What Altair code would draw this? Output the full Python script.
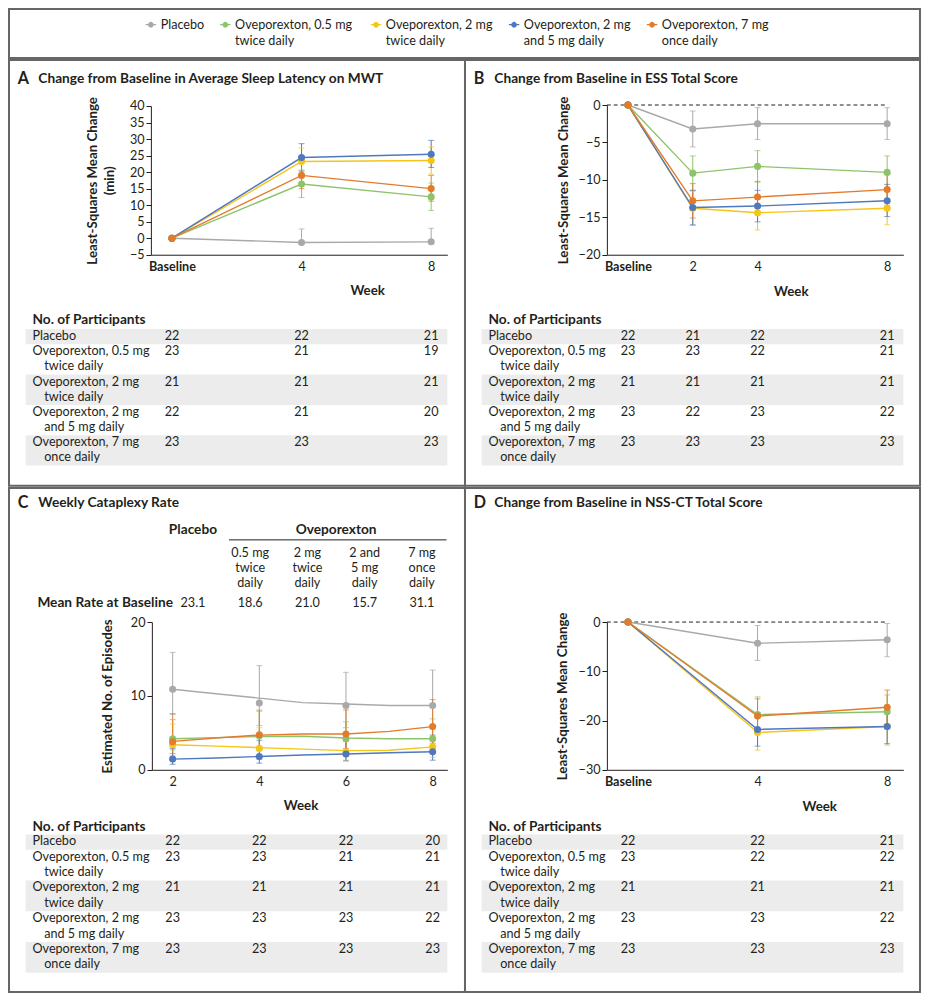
import altair as alt
import pandas as pd

S = 0.9785


def P(v):
    return round(v * S, 2)


FONT = "Lato"
INK = "#231f20"
BORDER = "#666666"
BAND = "#ececec"
FS = 12.9
FT = 13.6

SERIES = ["Placebo", "Oveporexton, 0.5 mg twice daily", "Oveporexton, 2 mg twice daily",
          "Oveporexton, 2 mg and 5 mg daily", "Oveporexton, 7 mg once daily"]
COLORS = ["#a9a9a9", "#8dc46b", "#f5c518", "#4f78bf", "#e37b2b"]
LEGEND_LABELS = ["Placebo", "Oveporexton, 0.5 mg\ntwice daily", "Oveporexton, 2 mg\ntwice daily",
                 "Oveporexton, 2 mg\nand 5 mg daily", "Oveporexton, 7 mg\nonce daily"]
ROW_LINE1 = ["Placebo", "Oveporexton, 0.5 mg", "Oveporexton, 2 mg", "Oveporexton, 2 mg",
             "Oveporexton, 7 mg"]
ROW_LINE2 = ["", "twice daily", "twice daily", "and 5 mg daily", "once daily"]

# ---------------- Panel A: MWT sleep latency ----------------
A_WEEKS = [0, 4, 8]
A_MEAN = [[0, -1.3, -1.1], [0, 16.4, 12.5], [0, 23.2, 23.5], [0, 24.4, 25.4], [0, 19.0, 15.0]]
A_LO = [[None, None, None], [None, 12.3, 8.4], [None, 19.1, 19.4], [None, 20.3, 21.4], [None, 15.0, 11.2]]
A_HI = [[None, 2.8, 3.0], [None, 20.6, 16.7], [None, 27.3, 27.6], [None, 28.6, 29.6], [None, 23.0, 19.0]]
A_N = [[22, 22, 21], [23, 21, 19], [21, 21, 21], [22, 21, 20], [23, 23, 23]]

# ---------------- Panel B: ESS ----------------
B_WEEKS = [0, 2, 4, 8]
B_MEAN = [[0, -3.2, -2.5, -2.5], [0, -9.1, -8.2, -9.0], [0, -13.8, -14.4, -13.8],
          [0, -13.7, -13.5, -12.8], [0, -12.8, -12.3, -11.3]]
B_LO = [[None, -5.6, -4.6, -4.6], [None, -11.4, -10.3, -11.1], [None, -16.1, -16.7, -16.0],
        [None, -16.0, -15.6, -14.9], [None, -15.1, -14.5, -13.4]]
B_HI = [[None, -0.8, -0.35, -0.35], [None, -6.8, -6.1, -6.8], [None, -11.5, -12.1, -11.5],
        [None, -11.4, -11.4, -10.6], [None, -10.5, -10.2, -9.2]]
B_N = [[22, 21, 22, 21], [23, 23, 22, 21], [21, 21, 21, 21], [23, 22, 23, 22], [23, 23, 23, 23]]

# ---------------- Panel C: weekly cataplexy rate ----------------
C_WEEKS = [2, 4, 6, 8]
C_MEAN = [[10.9, 9.05, 8.7, 8.7], [4.2, 4.6, 4.2, 4.2], [3.4, 2.9, 2.45, 3.1],
          [1.45, 1.8, 2.15, 2.45], [3.8, 4.75, 4.85, 5.85]]
C_LO = [[7.5, 6.0, 5.7, 5.6], [2.7, 2.6, 2.6, 2.5], [1.9, 1.4, 1.3, 1.7],
        [0.75, 0.9, 1.2, 1.3], [2.2, 2.8, 2.9, 3.6]]
C_HI = [[15.9, 14.1, 13.2, 13.5], [6.8, 8.1, 6.5, 6.9], [6.2, 5.7, 4.6, 5.8],
        [2.9, 4.0, 3.9, 4.7], [7.6, 7.95, 8.1, 9.5]]
C_LINE_WEEKS = [2, 3, 4, 5, 6, 7, 8]
C_LINE = [[10.9, 10.3, 9.7, 9.1, 8.9, 8.7, 8.7],
          [4.2, 4.35, 4.5, 4.55, 4.3, 4.2, 4.2],
          [3.4, 3.2, 3.0, 2.8, 2.6, 2.65, 3.1],
          [1.45, 1.6, 1.8, 2.0, 2.15, 2.3, 2.45],
          [3.85, 4.3, 4.7, 4.85, 4.85, 5.2, 5.85]]
C_N = [[22, 22, 22, 20], [23, 23, 21, 21], [21, 21, 21, 21], [23, 23, 23, 22], [23, 23, 23, 23]]
C_GROUPS = ["Placebo", "0.5 mg\ntwice\ndaily", "2 mg\ntwice\ndaily", "2 and\n5 mg\ndaily", "7 mg\nonce\ndaily"]
C_BASE_RATE = [23.1, 18.6, 21.0, 15.7, 31.1]

# ---------------- Panel D: NSS-CT ----------------
D_WEEKS = [0, 4, 8]
D_MEAN = [[0, -4.3, -3.6], [0, -18.8, -18.2], [0, -22.4, -21.2], [0, -21.8, -21.2], [0, -19.1, -17.3]]
D_LO = [[None, -7.8, -7.05], [None, -22.3, -21.6], [None, -26.0, -25.0], [None, -25.2, -24.7], [None, -22.6, -20.8]]
D_HI = [[None, -0.7, -0.3], [None, -15.2, -14.8], [None, -18.8, -17.4], [None, -18.4, -17.7], [None, -15.6, -13.8]]
D_N = [[22, 22, 21], [23, 22, 22], [21, 21, 21], [23, 23, 22], [23, 23, 23]]

COLOR = alt.Color("series:N", scale=alt.Scale(domain=SERIES, range=COLORS), legend=None)


def long_df(weeks, mean, lo=None, hi=None):
    rows = []
    for si, name in enumerate(SERIES):
        for wi, w in enumerate(weeks):
            rows.append({"series": name, "k": si, "week": w, "mean": mean[si][wi],
                         "lo": None if lo is None else lo[si][wi],
                         "hi": None if hi is None else hi[si][wi]})
    return pd.DataFrame(rows)


def err_frames(df):
    seg_rows, cap_rows = [], []
    for _, r in df.iterrows():
        lo, hi = r["lo"], r["hi"]
        has_lo = lo is not None and not pd.isna(lo)
        has_hi = hi is not None and not pd.isna(hi)
        if not (has_lo or has_hi):
            continue
        seg_rows.append({"series": r["series"], "k": r["k"], "week": r["week"],
                         "y0": float(lo) if has_lo else float(r["mean"]),
                         "y1": float(hi) if has_hi else float(r["mean"])})
        if has_lo:
            cap_rows.append({"series": r["series"], "k": r["k"], "week": r["week"], "cap": float(lo)})
        if has_hi:
            cap_rows.append({"series": r["series"], "k": r["k"], "week": r["week"], "cap": float(hi)})
    return pd.DataFrame(seg_rows), pd.DataFrame(cap_rows)


def plot_group(pts, line_df, xdom, xrng, ydom, yrng, xticks, yticks, ytitle, ytitle_x,
               week_xy, H, baseline=True, zero=False):
    xs = alt.Scale(domain=xdom, range=[P(xrng[0]), P(xrng[1])], nice=False, zero=False)
    ys = alt.Scale(domain=ydom, range=[P(yrng[0]), P(yrng[1])], nice=False, zero=False)
    xkw = dict(values=xticks, ticks=False, grid=False, domainColor=INK, domainWidth=1,
               labelColor=INK, labelFontSize=P(FS), labelPadding=P(6), labelFont=FONT,
               labelFlush=False, labelOverlap=False,
               offset=P(yrng[0]) - P(H), title="Week", titleFont=FONT, titleFontSize=P(FT),
               titleFontWeight="bold", titleColor=INK, titleX=P(week_xy[0]),
               titleY=P(week_xy[1]) - P(yrng[0]), titleAlign="center", titleBaseline="middle")
    if baseline:
        xkw["labelExpr"] = "datum.value == 0 ? 'Baseline' : datum.label"
        xkw["labelFontWeight"] = {"condition": {"test": "datum.value == 0", "value": "bold"},
                                  "value": "normal"}
    xaxis = alt.Axis(**xkw)
    yaxis = alt.Axis(values=yticks, grid=False, domainColor=INK, domainWidth=1, tickColor=INK,
                     tickSize=P(5), tickWidth=1, labelColor=INK, labelFontSize=P(FS),
                     labelFont=FONT, labelPadding=P(2), labelOverlap=False, labelFlush=False,
                     offset=-P(xrng[0]), title=ytitle, titleFont=FONT, titleFontSize=P(FT),
                     titleFontWeight="bold", titleColor=INK,
                     titleX=P(ytitle_x) - P(xrng[0]), titleY=(P(yrng[0]) + P(yrng[1])) / 2,
                     titleAngle=270, titleAlign="center", titleBaseline="top",
                     titleLineHeight=P(18))

    def X(f):
        return alt.X(f, type="quantitative", scale=xs, axis=xaxis)

    def Y(f):
        return alt.Y(f, type="quantitative", scale=ys, axis=yaxis)

    seg, caps = err_frames(pts)
    layers = []
    if zero:
        zdf = pd.DataFrame({"x0": [xdom[0]], "x1": [8], "y": [0]})
        layers.append(alt.Chart(zdf).mark_rule(color=INK, strokeDash=[P(4), P(3)], strokeWidth=1)
                      .encode(x=X("x0"), x2="x1:Q", y=Y("y")))
    layers.append(alt.Chart(seg).mark_rule(strokeWidth=1).encode(
        x=X("week"), y=Y("y0"), y2="y1:Q", color=COLOR))
    layers.append(alt.Chart(caps).mark_tick(orient="horizontal", size=P(6), thickness=1).encode(
        x=X("week"), y=Y("cap"), color=COLOR))
    layers.append(alt.Chart(line_df).mark_line(strokeWidth=1.4).encode(
        x=X("week"), y=Y("mean"), color=COLOR))
    layers.append(alt.Chart(pts).mark_circle(size=50, opacity=1).encode(
        x=X("week"), y=Y("mean"), color=COLOR))
    return alt.layer(*layers)


def table_group(weeks, counts, xdom, xrng, top, lh, header_y):
    xs = alt.Scale(domain=xdom, range=[P(xrng[0]), P(xrng[1])], nice=False, zero=False)
    nl = [2 if l2 else 1 for l2 in ROW_LINE2]
    starts = [sum(nl[:i]) for i in range(len(nl))]
    total = sum(nl)
    ys = alt.Scale(domain=[0, total], range=[P(top), P(top + total * lh)], nice=False, zero=False)
    rows_df = pd.DataFrame({"l1": ROW_LINE1, "l2": ROW_LINE2, "start": starts,
                            "second": [s + 1 for s in starts],
                            "end": [s + n for s, n in zip(starts, nl)],
                            "shade": [i % 2 == 0 for i in range(len(nl))]})
    num_rows = []
    for i, row in enumerate(counts):
        for w, n in zip(weeks, row):
            num_rows.append({"week": w, "n": n, "start": starts[i]})
    num_df = pd.DataFrame(num_rows)
    txt = dict(baseline="line-top", lineHeight=P(lh), fontSize=P(FS), font=FONT, color=INK)
    band = alt.Chart(rows_df).transform_filter("datum.shade").mark_rect(color=BAND).encode(
        x=alt.value(P(17)), x2=alt.value(P(448)),
        y=alt.Y("start:Q", scale=ys, axis=None), y2="end:Q")
    lab1 = alt.Chart(rows_df).mark_text(align="left", **txt).encode(
        x=alt.value(P(24)), y=alt.Y("start:Q", scale=ys, axis=None), text="l1:N")
    lab2 = alt.Chart(rows_df).transform_filter("datum.l2 != ''").mark_text(
        align="left", dx=P(12), **txt).encode(
        x=alt.value(P(24)), y=alt.Y("second:Q", scale=ys, axis=None), text="l2:N")
    nums = alt.Chart(num_df).mark_text(align="center", **txt).encode(
        x=alt.X("week:Q", scale=xs, axis=None), y=alt.Y("start:Q", scale=ys, axis=None),
        text="n:Q")
    head = alt.Chart(pd.DataFrame({"t": ["No. of Participants"]})).mark_text(
        align="left", baseline="middle", fontWeight="bold", fontSize=P(FT + 0.4), font=FONT,
        color=INK).encode(x=alt.value(P(24)), y=alt.value(P(header_y)), text="t:N")
    return alt.layer(band, lab1, lab2, nums, head)


def title_layers(letter, title, y):
    a = alt.Chart(pd.DataFrame({"t": [letter]})).mark_text(
        align="left", baseline="middle", fontWeight="bold", fontSize=P(16.5), font=FONT,
        color=INK).encode(x=alt.value(P(9)), y=alt.value(P(y)), text="t:N")
    b = alt.Chart(pd.DataFrame({"t": [title]})).mark_text(
        align="left", baseline="middle", fontWeight="bold", fontSize=P(FT + 0.4), font=FONT,
        color=INK).encode(x=alt.value(P(30)), y=alt.value(P(y)), text="t:N")
    return [a, b]


def panel(layers, W, H):
    return alt.layer(*layers).resolve_scale(x="independent", y="independent").properties(
        width=P(W), height=P(H))


XD = [-0.65, 8.5]
XR = [145, 448]

# Panel A
a_pts = long_df(A_WEEKS, A_MEAN, A_LO, A_HI)
pA = plot_group(a_pts, a_pts, XD, XR, [-5, 40], [199, 47], A_WEEKS, list(range(-5, 45, 5)),
                ["Least-Squares Mean Change", "(min)"], 78, (366, 236), 435)
tA = table_group(A_WEEKS, A_N, XD, XR, 275, 15.5, 266)
chartA = panel([pA, tA] + title_layers("A", "Change from Baseline in Average Sleep Latency on MWT", 19), 466, 435)

# Panel B
b_pts = long_df(B_WEEKS, B_MEAN, B_LO, B_HI)
pB = plot_group(b_pts, b_pts, XD, XR, [-20, 0], [199, 46], B_WEEKS, [-20, -15, -10, -5, 0],
                "Least-Squares Mean Change", 94, (333, 237), 435, zero=True)
tB = table_group(B_WEEKS, B_N, XD, XR, 275, 15.5, 266)
chartB = panel([pB, tB] + title_layers("B", "Change from Baseline in ESS Total Score", 19), 465, 435)

# Panel C
c_pts = long_df(C_WEEKS, C_MEAN, C_LO, C_HI)
c_line = long_df(C_LINE_WEEKS, C_LINE)
XC = [1.52, 8.34]
XCR = [146, 448]
pC = plot_group(c_pts, c_line, XC, XCR, [0, 20], [288, 137], C_WEEKS, [0, 10, 20],
                "Estimated No. of Episodes", 94, (298, 324), 515, baseline=False)
tC = table_group(C_WEEKS, C_N, XC, XCR, 354, 15.7, 346)
gs = alt.Scale(domain=[0, 4], range=[P(188), P(422)], nice=False, zero=False)
grp_df = pd.DataFrame({"g": list(range(5)), "label": C_GROUPS, "rate": C_BASE_RATE})
hdr_placebo = alt.Chart(grp_df).transform_filter("datum.g == 0").mark_text(
    align="center", baseline="middle", fontWeight="bold", fontSize=P(FT + 0.4), font=FONT,
    color=INK).encode(x=alt.X("g:Q", scale=gs, axis=None), y=alt.value(P(43)), text="label:N")
hdr_drug = alt.Chart(pd.DataFrame({"g": [2.5], "t": ["Oveporexton"]})).mark_text(
    align="center", baseline="middle", fontWeight="bold", fontSize=P(FT + 0.4), font=FONT,
    color=INK).encode(x=alt.X("g:Q", scale=gs, axis=None), y=alt.value(P(43)), text="t:N")
hdr_rule = alt.Chart(pd.DataFrame({"g0": [0.63], "g1": [4.43]})).mark_rule(
    color=INK, strokeWidth=1).encode(x=alt.X("g0:Q", scale=gs, axis=None), x2="g1:Q",
                                     y=alt.value(P(53)))
hdr_sub = alt.Chart(grp_df).transform_filter("datum.g > 0").mark_text(
    align="center", baseline="line-top", lineBreak="\n", lineHeight=P(15.5), fontSize=P(FS),
    font=FONT, color=INK).encode(x=alt.X("g:Q", scale=gs, axis=None), y=alt.value(P(59.3)),
                                 text="label:N")
hdr_rate_lab = alt.Chart(pd.DataFrame({"t": ["Mean Rate at Baseline"]})).mark_text(
    align="left", baseline="middle", fontWeight="bold", fontSize=P(FT + 0.4), font=FONT,
    color=INK).encode(x=alt.value(P(29)), y=alt.value(P(118)), text="t:N")
hdr_rate = alt.Chart(grp_df).mark_text(
    align="center", baseline="middle", fontSize=P(FS), font=FONT, color=INK).encode(
    x=alt.X("g:Q", scale=gs, axis=None), y=alt.value(P(118)), text=alt.Text("rate:Q", format=".1f"))
hdrC = alt.layer(hdr_placebo, hdr_drug, hdr_rule, hdr_sub, hdr_rate_lab, hdr_rate)
chartC = panel([pC, tC, hdrC] + title_layers("C", "Weekly Cataplexy Rate", 15), 466, 515)

# Panel D
d_pts = long_df(D_WEEKS, D_MEAN, D_LO, D_HI)
pD = plot_group(d_pts, d_pts, XD, XR, [-30, 0], [288, 137], D_WEEKS, [-30, -20, -10, 0],
                "Least-Squares Mean Change", 92, (362, 326), 515, zero=True)
tD = table_group(D_WEEKS, D_N, XD, XR, 354, 15.7, 346)
chartD = panel([pD, tD] + title_layers("D", "Change from Baseline in NSS-CT Total Score", 15), 465, 515)

# Legend strip
leg_chars = [max(len(s) for s in lab.split("\n")) for lab in LEGEND_LABELS]
leg_pos = [sum(c + 4.7 for c in leg_chars[:i]) for i in range(len(leg_chars))]
leg_df = pd.DataFrame({"series": SERIES, "label": LEGEND_LABELS, "pos": leg_pos})
lx = alt.Scale(domain=[0, 100], range=[P(145), P(795)], nice=False, zero=False)
LX = alt.X("pos:Q", scale=lx, axis=None)
leg_cross = alt.Chart(leg_df).mark_point(shape="M-1,0H1M0,-0.55V0.55", size=110, filled=False,
                                         strokeWidth=1.3, opacity=1).encode(
    x=LX, y=alt.value(P(16)), color=COLOR)
leg_dot = alt.Chart(leg_df).mark_circle(size=30, opacity=1).encode(x=LX, y=alt.value(P(16)), color=COLOR)
leg_text = alt.Chart(leg_df).mark_text(align="left", baseline="line-top", lineBreak="\n",
                                       lineHeight=P(16.5), fontSize=P(FS), font=FONT, color=INK,
                                       dx=P(10)).encode(x=LX, y=alt.value(P(7.8)), text="label:N")
legend = alt.layer(leg_cross, leg_dot, leg_text).properties(width=P(931), height=P(50))

chart = alt.vconcat(
    legend,
    alt.hconcat(chartA, chartB, spacing=0, bounds="flush"),
    alt.hconcat(chartC, chartD, spacing=0, bounds="flush"),
    spacing=0,
).properties(padding=0).configure(font=FONT).configure_view(stroke=BORDER, strokeWidth=2)

chart.save("out.html", embed_options={"renderer": "svg", "actions": False})
